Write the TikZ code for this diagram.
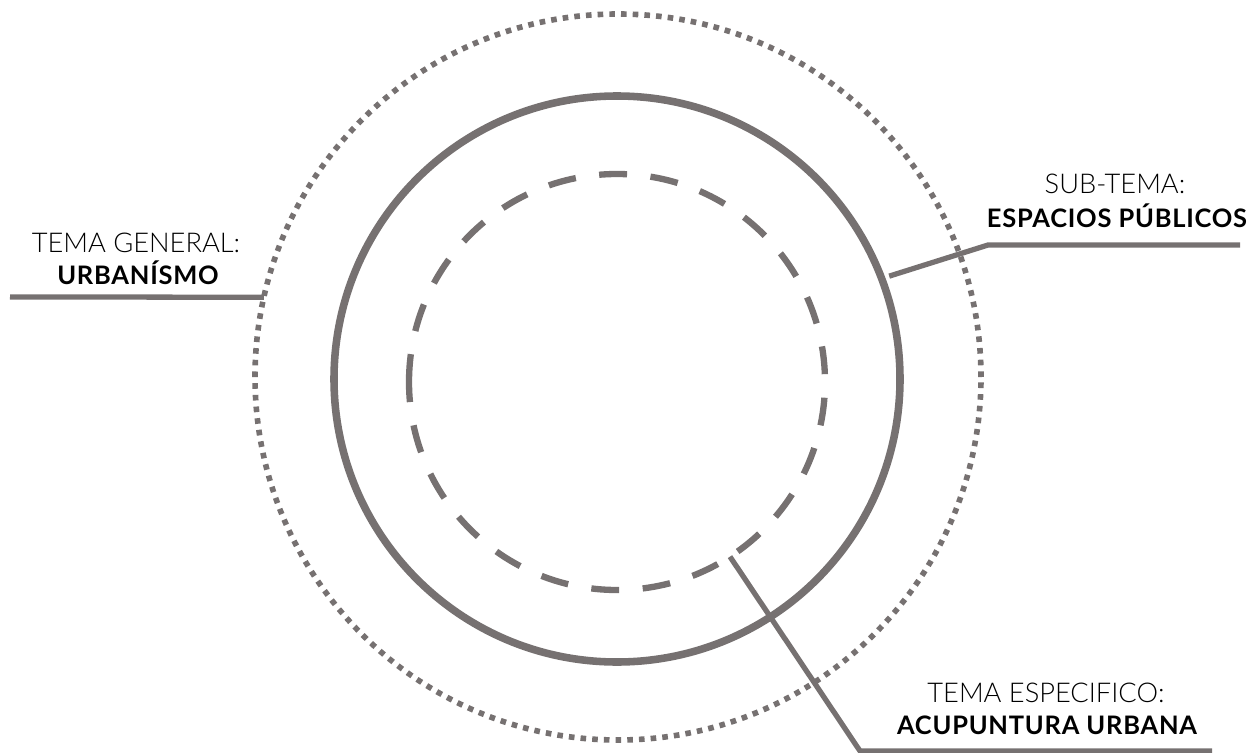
\documentclass[tikz,border=0pt]{standalone}
\usepackage{fontspec}
\setmainfont{Lato}[UprightFont=* Light, BoldFont=* Bold]
\newfontfamily\labelbold{Lato}[UprightFont=* Bold, LetterSpace=3]
\usepackage{tikz}
\usetikzlibrary{calc}
\definecolor{ringgray}{RGB}{118,113,113}

\begin{document}
\begin{tikzpicture}[x=0.02cm,y=0.02cm,
  lbl/.style={anchor=base,inner sep=0pt,font=\fontsize{15.5}{18}\selectfont},
  lblb/.style={anchor=base,inner sep=0pt,font=\labelbold\fontsize{14.5}{17}\selectfont},
  leader/.style={ringgray,line width=3pt}]
  \useasboundingbox (0,0) rectangle (1253,752);
  \coordinate (cout) at (618,375);
  \coordinate (cmid) at (617,373);
  \coordinate (cin) at (617,370);
  % the three rings
  \draw[ringgray,line width=3.2pt,dash pattern=on 3.2pt off 3.46pt] (cout) circle (363);
  \draw[ringgray,line width=4.3pt] (cmid) circle (283);
  \draw[ringgray,line width=3.6pt,dash pattern=on 15.9pt off 13.4pt]
    ($(cin)+(180:208)$) arc[start angle=180,end angle=-180,radius=208];
  % leaders
  \coordinate (tgend) at (10,455);
  \coordinate (tgring) at ($(cout)+(167.3:363)$);
  \draw[leader] (tgend) -- (tgring);
  \coordinate (string) at ($(cmid)+(20.7:291)$);
  \coordinate (stbend) at (988,507);
  \coordinate (stend) at (1240,507);
  \draw[leader] (string) -- (stbend) -- (stend);
  \coordinate (tering) at ($(cin)+(-57.1:208)$);
  \coordinate (tebend) at (860,1);
  \coordinate (teend) at (1212,1);
  \draw[leader] (tering) -- (tebend) -- (teend);
  % labels
  \node[lbl] (tgtitle) at (136,500) {TEMA GENERAL:};
  \node[lblb] (tgname) at (138,468) {URBANÍSMO};
  \node[lbl] (sttitle) at (1115,559) {SUB-TEMA:};
  \node[lblb] (stname) at (1117,525) {ESPACIOS PÚBLICOS};
  \node[lbl] (tetitle) at (1046,50) {TEMA ESPECIFICO:};
  \node[lblb] (tename) at (1047,18) {ACUPUNTURA URBANA};
\end{tikzpicture}
\end{document}
